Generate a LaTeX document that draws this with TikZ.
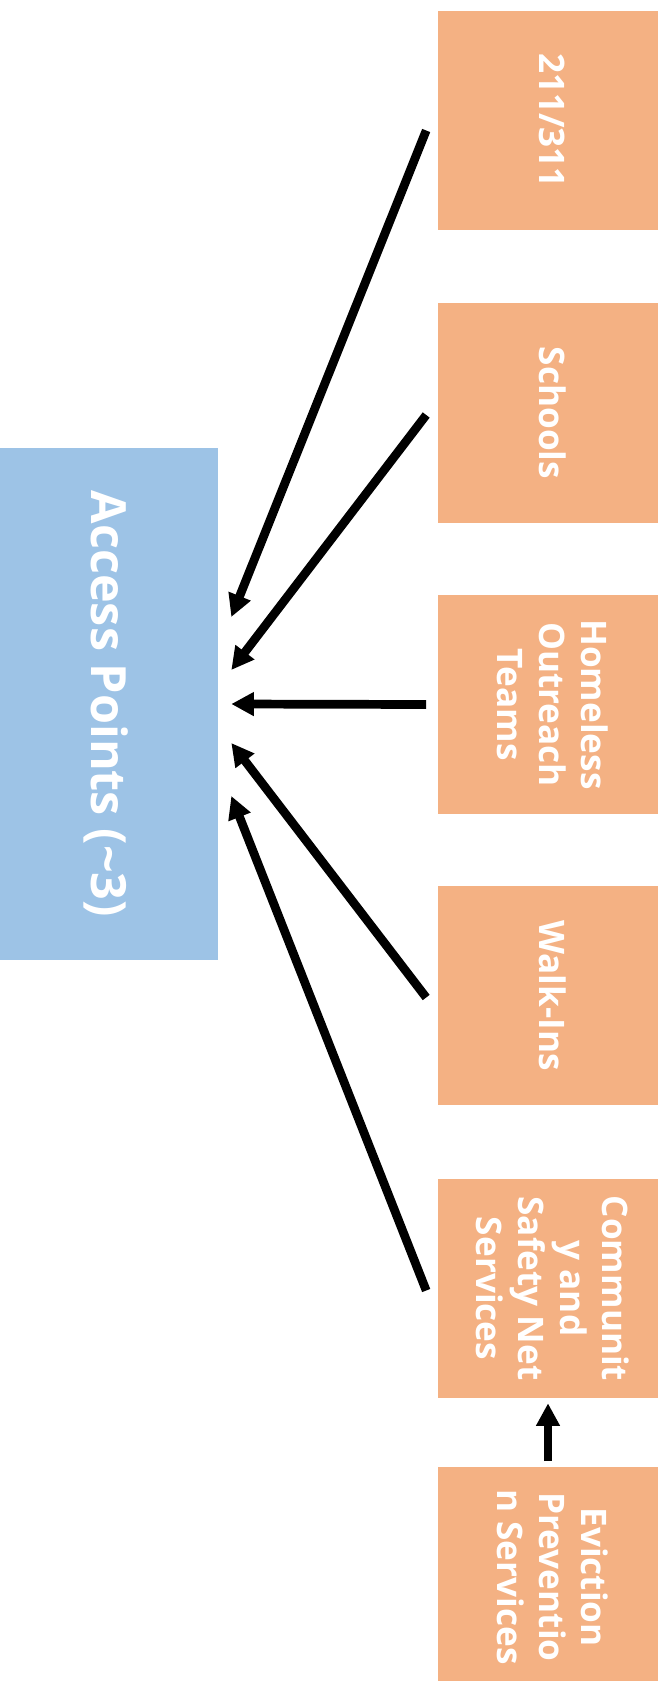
\documentclass[tikz,border=0pt]{standalone}
\usepackage{fontspec}
\setmainfont{Open Sans}
\usepackage{graphicx}
\usetikzlibrary{positioning, calc, arrows.meta}
\definecolor{srcorange}{HTML}{F4B183}
\definecolor{apblue}{HTML}{9DC3E6}
\tikzset{>={Triangle[length=16pt,width=16pt]}}
\newcommand{\vlabel}[1]{\rotatebox{-90}{\begin{tabular}{@{}c@{}}#1\end{tabular}}}

\begin{document}
\begin{tikzpicture}[x=0.025cm,y=-0.025cm,
    source/.style={fill=srcorange, text=white, font=\bfseries\fontsize{25}{30}\selectfont,
        minimum width=5.475cm, minimum height=5.475cm, inner sep=0pt},
    access/.style={fill=apblue, text=white, font=\bfseries\fontsize{34.5}{41}\selectfont,
        minimum width=5.45cm, minimum height=12.8cm, inner sep=0pt},
    feed/.style={->, line width=6.2pt}]
    \useasboundingbox (0,0) rectangle (665,1681);
    \node[access] (ap) at (109,704) {\vlabel{\rule{0pt}{37pt}Access Points (\textasciitilde3)}};
    \node[source] (tel) at (548,120.5) {\vlabel{211/311}};
    \node[source] (sch) at (548,413) {\vlabel{Schools}};
    \node[source] (hot) at (548,704.5) {\vlabel{Homeless\\Outreach\\Teams}};
    \node[source] (walk) at (548,995.5) {\vlabel{Walk-Ins}};
    \node[source] (csn) at (548,1288.5) {\vlabel{Communit\\y and\\Safety Net\\Services}};
    \node[source] (evp) at (548,1577) {\vlabel{Eviction\\Preventio\\n Services}};
    \draw[feed] ($(tel.west)+(-12,10)$) -- ($(ap.east)+(13,-87)$);
    \draw[feed] ($(sch.west)+(-12,2)$) -- ($(ap.east)+(13,-34)$);
    \draw[feed] ($(hot.west)+(-12,0)$) -- ($(ap.east)+(13,0)$);
    \draw[feed] ($(walk.west)+(-12,2)$) -- ($(ap.east)+(13,39)$);
    \draw[feed] ($(csn.west)+(-12,2)$) -- ($(ap.east)+(13,92)$);
    \draw[feed] ($(evp.north)+(0,-6)$) -- ($(csn.south)+(0,5)$);
\end{tikzpicture}
\end{document}
